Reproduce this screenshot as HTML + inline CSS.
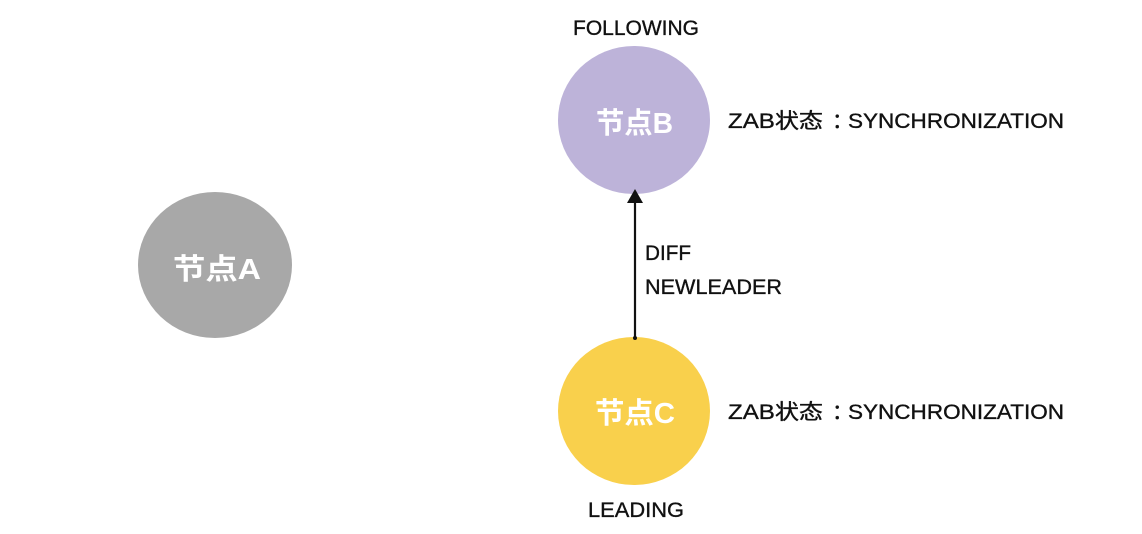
<!DOCTYPE html>
<html>
<head>
<meta charset="utf-8">
<style>
  html, body { margin: 0; padding: 0; background: #ffffff; }
  svg { display: block; }
  .lbl { font-family: "Liberation Sans", "Noto Sans CJK SC", sans-serif; font-size: 21px; fill: #111; stroke: #111; stroke-width: 0.35; }
  .node { font-family: "Liberation Sans", "Noto Sans CJK SC", sans-serif; font-size: 29px; font-weight: bold; fill: #ffffff; }
</style>
</head>
<body>
<svg width="1142" height="534" viewBox="0 0 1142 534" xmlns="http://www.w3.org/2000/svg">
  <rect width="1142" height="534" fill="#ffffff"/>

  <!-- Node A -->
  <ellipse cx="215" cy="265" rx="77" ry="73" fill="#a8a8a8"/>
  <text class="node" x="173" y="279" textLength="88" lengthAdjust="spacingAndGlyphs">节点A</text>

  <!-- Node B -->
  <ellipse cx="634" cy="120" rx="76" ry="74" fill="#bdb3d9"/>
  <text class="node" x="596" y="133" textLength="77" lengthAdjust="spacingAndGlyphs">节点B</text>

  <!-- Node C -->
  <ellipse cx="634" cy="411" rx="76" ry="74" fill="#f9d04c"/>
  <text class="node" x="595" y="423" textLength="80" lengthAdjust="spacingAndGlyphs">节点C</text>

  <!-- Arrow C -> B -->
  <line x1="635" y1="338" x2="635" y2="200" stroke="#111" stroke-width="2.2"/>
  <polygon points="635,189 627,203 643,203" fill="#111"/>
  <circle cx="635" cy="338" r="2" fill="#111"/>

  <!-- Labels -->
  <text class="lbl" x="573" y="35" textLength="126" lengthAdjust="spacingAndGlyphs">FOLLOWING</text>

  <text class="lbl" x="728" y="128" textLength="95" lengthAdjust="spacingAndGlyphs">ZAB状态</text>
  <text class="lbl" x="832" y="128">：</text>
  <text class="lbl" x="848" y="128" textLength="216" lengthAdjust="spacingAndGlyphs">SYNCHRONIZATION</text>

  <text class="lbl" x="645" y="260" textLength="46" lengthAdjust="spacingAndGlyphs">DIFF</text>
  <text class="lbl" x="645" y="294" textLength="137" lengthAdjust="spacingAndGlyphs">NEWLEADER</text>

  <text class="lbl" x="728" y="419" textLength="95" lengthAdjust="spacingAndGlyphs">ZAB状态</text>
  <text class="lbl" x="832" y="419">：</text>
  <text class="lbl" x="848" y="419" textLength="216" lengthAdjust="spacingAndGlyphs">SYNCHRONIZATION</text>

  <text class="lbl" x="588" y="517" textLength="96" lengthAdjust="spacingAndGlyphs">LEADING</text>
</svg>
</body>
</html>
